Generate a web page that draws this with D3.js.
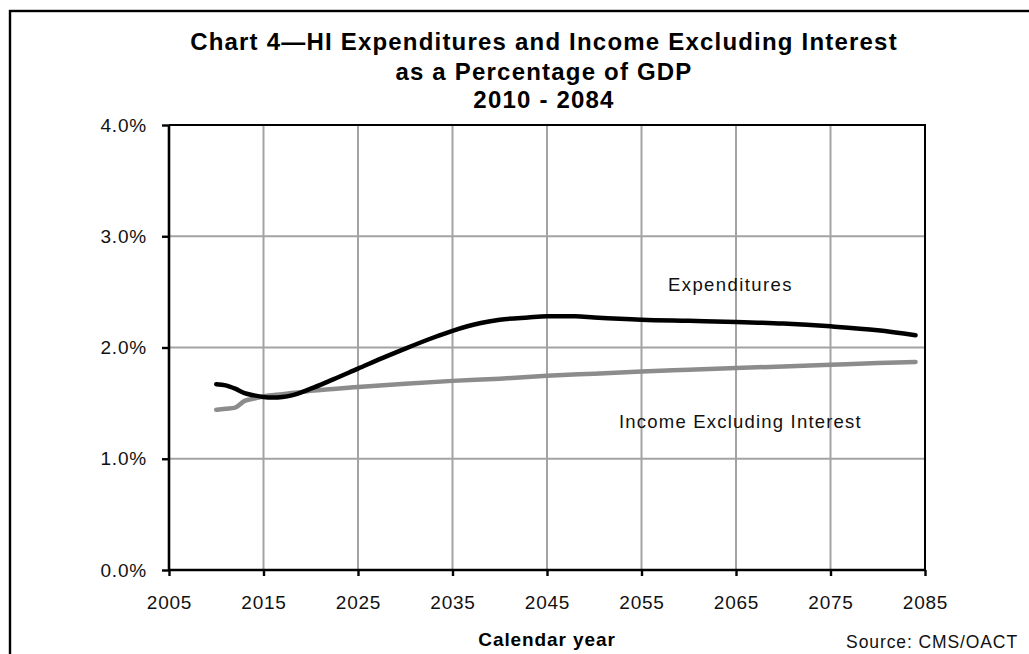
<!DOCTYPE html>
<html>
<head>
<meta charset="utf-8">
<script src="https://cdn.jsdelivr.net/npm/d3@7"></script>
<style>
  html, body { margin: 0; padding: 0; background: #fff; }
  svg { display: block; }
  text { font-family: "Liberation Sans", Arial, sans-serif; }
</style>
</head>
<body>
<svg id="chart" width="1029" height="654"></svg>
<script>
// HI expenditures and income excluding interest, percent of GDP
const expYears = [2010, 2011, 2012, 2013, 2014, 2015, 2016, 2017, 2018, 2020, 2022, 2025, 2028, 2030, 2033, 2035, 2038, 2040, 2043, 2045, 2048, 2050, 2055, 2060, 2065, 2070, 2075, 2080, 2084];
const expValues = [1.67, 1.66, 1.63, 1.59, 1.57, 1.555, 1.55, 1.555, 1.57, 1.63, 1.70, 1.81, 1.92, 1.99, 2.09, 2.15, 2.22, 2.25, 2.27, 2.28, 2.28, 2.27, 2.25, 2.24, 2.23, 2.215, 2.19, 2.155, 2.11];

const incYears = [2010, 2011, 2012, 2013, 2014, 2015, 2017, 2020, 2025, 2030, 2035, 2040, 2045, 2050, 2055, 2060, 2065, 2070, 2075, 2080, 2084];
const incValues = [1.44, 1.45, 1.46, 1.52, 1.54, 1.56, 1.58, 1.61, 1.645, 1.675, 1.70, 1.72, 1.745, 1.765, 1.785, 1.80, 1.815, 1.83, 1.845, 1.86, 1.87];

const xTicks = [2005, 2015, 2025, 2035, 2045, 2055, 2065, 2075, 2085];
const yTicks = [0, 1, 2, 3, 4];

const titleLines = ["Chart 4\u2014HI Expenditures and Income Excluding Interest", "as a Percentage of GDP", "2010 - 2084"];

const svg = d3.select("#chart");

// outer frame (open to the right and bottom)
svg.append("rect")
  .attr("x", 10).attr("y", 11)
  .attr("width", 1100).attr("height", 800)
  .attr("fill", "none").attr("stroke", "#000").attr("stroke-width", 2.4);

const plot = { left: 169, right: 925, top: 125, bottom: 570 };

const x = d3.scaleLinear().domain([2005, 2085]).range([plot.left, plot.right]);
const y = d3.scaleLinear().domain([0, 4]).range([plot.bottom, plot.top]);

// gridlines
const grid = svg.append("g").attr("stroke", "#a3a3a3").attr("stroke-width", 2);
grid.selectAll("line.v").data(xTicks.slice(1, -1)).join("line")
  .attr("x1", d => x(d)).attr("x2", d => x(d))
  .attr("y1", plot.top).attr("y2", plot.bottom);
grid.selectAll("line.h").data(yTicks.slice(1, -1)).join("line")
  .attr("y1", d => y(d)).attr("y2", d => y(d))
  .attr("x1", plot.left).attr("x2", plot.right);

// plot-area border (top and right)
svg.append("path")
  .attr("d", `M${plot.left},${plot.top}H${plot.right}V${plot.bottom}`)
  .attr("fill", "none").attr("stroke", "#000").attr("stroke-width", 2);

// axes
const xAxis = d3.axisBottom(x).tickValues(xTicks).tickFormat(d3.format("d")).tickSize(6).tickPadding(20);
const yAxis = d3.axisLeft(y).tickValues(yTicks).tickFormat(d => d.toFixed(1) + "%").tickSize(7).tickPadding(15);

const gx = svg.append("g").attr("transform", `translate(0,${plot.bottom})`).call(xAxis);
const gy = svg.append("g").attr("transform", `translate(${plot.left},0)`).call(yAxis);

[gx, gy].forEach(g => {
  g.select(".domain").attr("stroke", "#000").attr("stroke-width", 2.6);
  g.selectAll(".tick line").attr("stroke", "#000").attr("stroke-width", 2.4);
  g.selectAll(".tick text")
    .attr("fill", "#111")
    .style("font-size", "19px")
    .style("letter-spacing", "0.8px")
    .style("font-family", "'Liberation Sans', Arial, sans-serif");
});
gx.select(".domain").attr("d", `M${plot.left},0H${plot.right}`);
gy.select(".domain").attr("d", `M0,${plot.bottom}V${plot.top}`);

// series lines
const line = d3.line().curve(d3.curveMonotoneX).x(d => x(d[0])).y(d => y(d[1]));

svg.append("path")
  .datum(incYears.map((yr, i) => [yr, incValues[i]]))
  .attr("d", line)
  .attr("fill", "none").attr("stroke", "#8c8c8c").attr("stroke-width", 4.5)
  .attr("stroke-linecap", "round");

svg.append("path")
  .datum(expYears.map((yr, i) => [yr, expValues[i]]))
  .attr("d", line)
  .attr("fill", "none").attr("stroke", "#000").attr("stroke-width", 4.5)
  .attr("stroke-linecap", "round");

// series labels
svg.append("text")
  .attr("x", 668).attr("y", 291)
  .style("font-size", "18.5px").style("letter-spacing", "1.4px")
  .attr("fill", "#111")
  .text("Expenditures");

svg.append("text")
  .attr("x", 619).attr("y", 428)
  .style("font-size", "18.5px").style("letter-spacing", "1.2px")
  .attr("fill", "#111")
  .text("Income Excluding Interest");

// title
const titleX = 544;
const titleY = [50, 80, 108];
titleLines.forEach((t, i) => {
  svg.append("text")
    .attr("x", titleX).attr("y", titleY[i])
    .attr("text-anchor", "middle")
    .style("font-size", "24px").style("font-weight", "bold")
    .style("letter-spacing", "1.2px")
    .attr("fill", "#000")
    .text(t);
});

// axis title and source note
svg.append("text")
  .attr("x", 547).attr("y", 646)
  .attr("text-anchor", "middle")
  .style("font-size", "19px").style("font-weight", "bold")
  .style("letter-spacing", "0.9px")
  .attr("fill", "#000")
  .text("Calendar year");

svg.append("text")
  .attr("x", 1018).attr("y", 648)
  .attr("text-anchor", "end")
  .style("font-size", "17.5px").style("letter-spacing", "0.9px")
  .attr("fill", "#111")
  .text("Source: CMS/OACT");
</script>
</body>
</html>
